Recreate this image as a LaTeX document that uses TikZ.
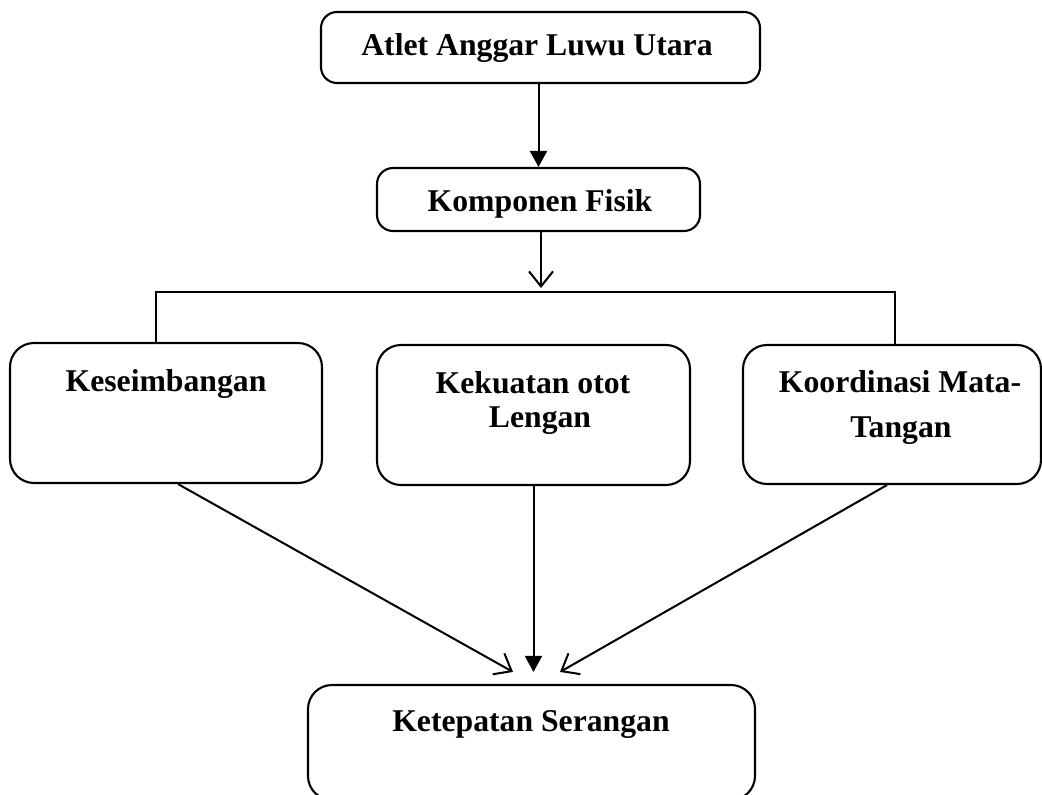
\documentclass[tikz,border=0pt]{standalone}
\usepackage{fontspec}
\setmainfont{Liberation Serif}
\usetikzlibrary{arrows.meta,calc}
\begin{document}
\begin{tikzpicture}[x=1pt,y=-1pt,
  box/.style={draw,line width=2.1pt,rounded corners=#1,inner sep=0pt},
  lbl/.style={font=\fontsize{31.7}{36}\selectfont\bfseries,anchor=base,inner sep=0pt},
  ln/.style={line width=2pt},
  filltip/.style={-{Triangle[length=16pt,width=17pt]}},
  opentip/.style={-{Straight Barb[length=15pt,width=24pt,line width=2pt]}}
]
\fill[white] (0,0) rectangle (1042,795);
\useasboundingbox (0,0) rectangle (1042,795);
% boxes
\node[box=16pt, minimum width=439pt, minimum height=71pt] (top) at (540.5,47.5) {};
\node[box=16pt, minimum width=323pt, minimum height=63pt] (komp) at (538.5,199.5) {};
\node[box=24pt, minimum width=312pt, minimum height=140pt] (kes) at (166,413) {};
\node[box=24pt, minimum width=313pt, minimum height=140pt] (kek) at (533.5,415) {};
\node[box=24pt, minimum width=298pt, minimum height=139pt] (koo) at (892,414.5) {};
\node[box=24pt, minimum width=447pt, minimum height=115pt] (ket) at (531.5,742.5) {};
% labels
\node[lbl] (t1) at (537,55) {Atlet Anggar Luwu Utara};
\node[lbl] (t2) at (540,211) {Komponen Fisik};
\node[lbl] (t3) at (166,391) {Keseimbangan};
\node[lbl] (t4a) at (533,393) {Kekuatan otot};
\node[lbl] (t4b) at (540,427) {Lengan};
\node[lbl] (t5a) at (900,392) {Koordinasi Mata-};
\node[lbl] (t5b) at (901,437) {Tangan};
\node[lbl] (t6) at (531,731) {Ketepatan Serangan};
% connectors
\coordinate (j) at (541,292);
\coordinate (hl) at (156,292);
\coordinate (hr) at (895,292);
\draw[ln,filltip] (top.south -| komp.north) -- (komp.north);
\draw[ln,opentip] (komp.south -| j) -- ($(j)+(0,-4)$);
\draw[ln] (kes.north -| hl) -- (hl) -- (hr) -- (koo.north -| hr);
\draw[ln,opentip] ($(kes.south)+(12,0)$) -- ($(ket.north)+(-18.5,-12)$);
\draw[ln,filltip] (kek.south) -- ($(ket.north)+(2,-12)$);
\draw[ln,opentip] ($(koo.south)+(-5,0)$) -- ($(ket.north)+(28.5,-12)$);
\end{tikzpicture}
\end{document}
